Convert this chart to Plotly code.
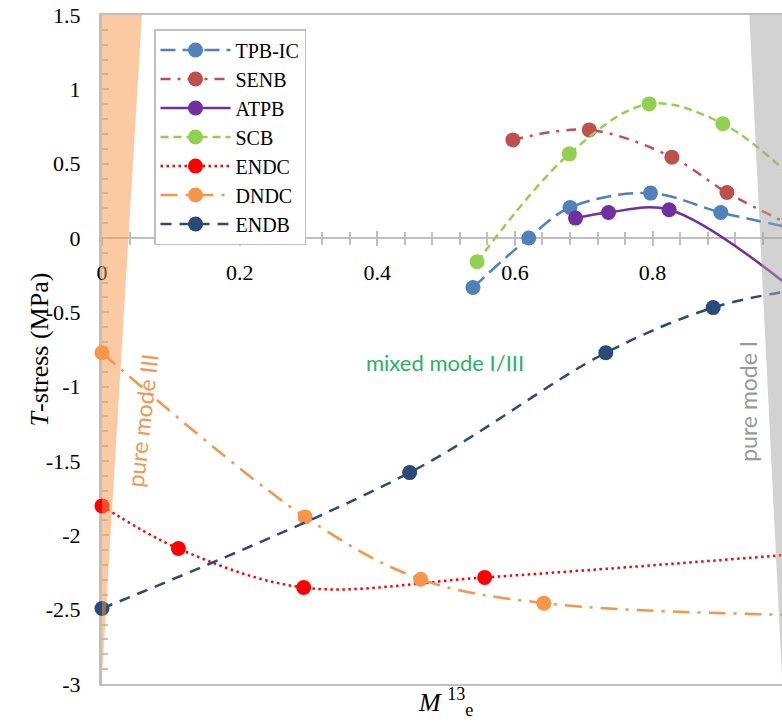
import plotly.graph_objects as go

# ---------------- data ----------------
X_RANGE = [0, 0.988]
Y_RANGE = [-3, 1.5]

y_tickvals = [1.5, 1, 0.5, 0, -0.5, -1, -1.5, -2, -2.5, -3]
y_ticktext = ["1.5", "1", "0.5", "0", "-0.5", "-1", "-1.5", "-2", "-2.5", "-3"]
x_tickvals = [0, 0.2, 0.4, 0.6, 0.8]
x_ticktext = ["0", "0.2", "0.4", "0.6", "0.8"]

tpb_ic_x = [0.539, 0.620, 0.680, 0.797, 0.899, 1.0]
tpb_ic_y = [-0.333, 0.0, 0.205, 0.302, 0.172, 0.07]

senb_x = [0.597, 0.708, 0.828, 0.908, 1.0]
senb_y = [0.660, 0.727, 0.544, 0.306, 0.09]

atpb_x = [0.688, 0.736, 0.824, 1.0]
atpb_y = [0.134, 0.172, 0.190, -0.33]

scb_x = [0.545, 0.679, 0.795, 0.902, 1.0]
scb_y = [-0.160, 0.566, 0.902, 0.768, 0.42]

endc_x = [0.0, 0.111, 0.293, 0.556, 1.0]
endc_y = [-1.802, -2.089, -2.351, -2.283, -2.13]

dndc_x = [0.0, 0.295, 0.463, 0.642, 1.0]
dndc_y = [-0.772, -1.876, -2.295, -2.456, -2.535]

endb_x = [0.0, 0.447, 0.732, 0.888, 1.0]
endb_y = [-2.492, -1.578, -0.772, -0.468, -0.355]

series = [
    ("TPB-IC", tpb_ic_x, tpb_ic_y),
    ("SENB", senb_x, senb_y),
    ("ATPB", atpb_x, atpb_y),
    ("SCB", scb_x, scb_y),
    ("ENDC", endc_x, endc_y),
    ("DNDC", dndc_x, dndc_y),
    ("ENDB", endb_x, endb_y),
]

# ---------------- styles ----------------
styles = {
    "TPB-IC": dict(color="#4F81BD", dash="15px,7px"),
    "SENB": dict(color="#C0504D", dash="10px,7px,3px,7px"),
    "ATPB": dict(color="#7030A0", dash="solid"),
    "SCB": dict(color="#92D050", dash="8px,5px"),
    "ENDC": dict(color="#FF0000", dash="2.5px,3.5px"),
    "DNDC": dict(color="#F79646", dash="17px,8px,3px,8px"),
    "ENDB": dict(color="#2A4A7A", dash="11px,8px"),
}

SERIF = "Liberation Serif"
SANS = "Lato"
AXIS_GRAY = "#BFBFBF"
TICK_GRAY = "#C4C4C4"

fig = go.Figure()

for name, xs, ys in series:
    st = styles[name]
    fig.add_trace(go.Scatter(
        x=xs, y=ys, name=name, mode="lines+markers",
        line=dict(color=st["color"], width=2.5, dash=st["dash"],
                  shape="spline", smoothing=1),
        marker=dict(color=st["color"], size=15, line=dict(width=0)),
        cliponaxis=False, hoverinfo="skip",
    ))

# invisible traces so that the y=0 axes are rendered
for ax in ["x2", "x3"]:
    fig.add_trace(go.Scatter(x=[None], y=[None], xaxis=ax, yaxis="y",
                             showlegend=False, hoverinfo="skip", mode="lines"))

zero_pos = (0 - Y_RANGE[0]) / (Y_RANGE[1] - Y_RANGE[0])

tickfont = dict(family=SERIF, size=22, color="black")

fig.update_layout(
    width=782, height=722,
    margin=dict(l=102, r=0, t=15, b=38),
    paper_bgcolor="white", plot_bgcolor="white",
    showlegend=True,
    legend=dict(
        x=(154 - 102) / 680, y=(684 - 29) / 669, xanchor="left", yanchor="top",
        bgcolor="white", bordercolor="#BFBFBF", borderwidth=1.5,
        font=dict(family=SERIF, size=20, color="black"),
        itemwidth=70, tracegroupgap=0,
    ),
    xaxis=dict(
        range=X_RANGE, showline=True, linecolor=AXIS_GRAY, linewidth=2,
        mirror=True, ticks="", showticklabels=False, showgrid=False,
        zeroline=False,
    ),
    xaxis2=dict(
        range=X_RANGE, overlaying="x", anchor="free", position=zero_pos,
        side="bottom", showline=True, linecolor=AXIS_GRAY, linewidth=2,
        ticks="outside", ticklen=7, tickwidth=2, tickcolor=AXIS_GRAY,
        tickmode="array", tickvals=x_tickvals, ticktext=x_ticktext,
        minor=dict(tickmode="linear", tick0=0, dtick=0.04, ticks="outside",
                   ticklen=6, tickwidth=1.5, tickcolor=AXIS_GRAY),
        showgrid=False, zeroline=False, layer="below traces",
        tickfont=tickfont, ticklabelstandoff=8,
    ),
    xaxis3=dict(
        range=X_RANGE, overlaying="x", anchor="free", position=zero_pos,
        side="bottom", showline=False,
        ticks="inside", ticklen=7, tickwidth=2, tickcolor=AXIS_GRAY,
        tickmode="array", tickvals=x_tickvals, showticklabels=False,
        minor=dict(tickmode="linear", tick0=0, dtick=0.04, ticks="inside",
                   ticklen=6, tickwidth=1.5, tickcolor=AXIS_GRAY),
        showgrid=False, zeroline=False, layer="below traces",
    ),
    yaxis=dict(
        range=Y_RANGE, showline=True, linecolor=AXIS_GRAY, linewidth=3,
        ticks="inside", ticklen=7, tickwidth=1.5, tickcolor=TICK_GRAY,
        tickmode="array", tickvals=y_tickvals, ticktext=y_ticktext,
        minor=dict(tickmode="linear", tick0=0, dtick=0.1, ticks="inside",
                   ticklen=6, tickwidth=1.5, tickcolor=TICK_GRAY),
        showgrid=False, zeroline=False, layer="below traces",
        tickfont=tickfont, ticklabelstandoff=14,
    ),
)

# shaded regions (pure mode III / pure mode I)
fig.add_shape(type="path", xref="x", yref="y",
              path="M 0,1.5 L 0.058,1.5 L 0,-2.95 Z",
              fillcolor="rgba(247,150,70,0.5)", line=dict(width=0),
              layer="above")
fig.add_shape(type="path", xref="x", yref="y",
              path="M 0.9405,1.5 L 1.0,1.5 L 1.0,-3 L 0.9885,-3 Z",
              fillcolor="rgba(166,166,166,0.5)", line=dict(width=0),
              layer="above")

# region labels
fig.add_annotation(x=0.0586, y=-1.225, xref="x", yref="y", showarrow=False,
                   text="pure mode III", textangle=-83.5,
                   font=dict(family=SANS, size=23, color="#EE9955"))
fig.add_annotation(x=0.9375, y=-1.1, xref="x", yref="y", showarrow=False,
                   text="pure mode I", textangle=-90,
                   font=dict(family=SANS, size=23, color="#999999"))
fig.add_annotation(x=0.498, y=-0.835, xref="x", yref="y", showarrow=False,
                   text="mixed mode I/III",
                   font=dict(family=SANS, size=22, color="#2EAF62"))

# axis titles
fig.add_annotation(x=(22.5 - 102) / 680, y=0.5, xref="paper", yref="paper",
                   showarrow=False, textangle=-90,
                   text="<i>T</i>-stress (MPa)",
                   font=dict(family=SERIF, size=26, color="black"))
fig.add_annotation(x=(445 - 102) / 680, y=(684 - 722) / 669, xref="paper",
                   yref="paper", yanchor="bottom", showarrow=False,
                   text="<i>M</i> <sup>13</sup><sub>e</sub>",
                   font=dict(family=SERIF, size=26, color="black"))

fig.write_html("out.html")
